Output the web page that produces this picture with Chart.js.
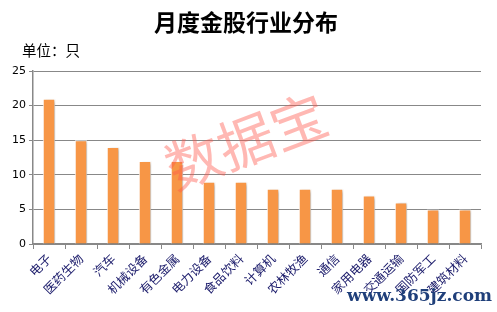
<!DOCTYPE html>
<html>
<head>
<meta charset="utf-8">
<script src="https://cdn.jsdelivr.net/npm/chart.js@4/dist/chart.umd.min.js"></script>
<style>
  html,body{margin:0;padding:0;background:#fff;}
  #wrap{width:497px;height:312px;position:relative;}
</style>
</head>
<body>
<div id="wrap"><canvas id="c" width="497" height="312"></canvas></div>
<script>
const industries = ['电子','医药生物','汽车','机械设备','有色金属','电力设备','食品饮料','计算机','农林牧渔','通信','家用电器','交通运输','国防军工','建筑材料'];
const counts = [21,15,14,12,12,9,9,8,8,8,7,6,5,5];
const yTicks = [0,5,10,15,20,25];

const CJK = '"Noto Sans CJK SC", "Noto Sans", sans-serif';

// title, unit and watermarks
const decor = {
  id:'decor',
  beforeDatasetsDraw(chart){
    const ctx = chart.ctx;
    ctx.save();
    ctx.fillStyle = '#000';
    ctx.textBaseline = 'middle';
    ctx.textAlign = 'center';
    ctx.font = 'bold 23px ' + CJK;
    ctx.fillText('月度金股行业分布', 246, 22);
    ctx.textAlign = 'left';
    ctx.font = '14.5px ' + CJK;
    ctx.fillText('单位：只', 22, 50);
    ctx.restore();
  },
  beforeDatasetDraw(chart){
    const ctx = chart.ctx;
    ctx.save();
    ctx.shadowColor = 'rgba(0,0,0,0.28)';
    ctx.shadowOffsetX = 2;
    ctx.shadowOffsetY = 1;
    ctx.shadowBlur = 3;
  },
  afterDatasetDraw(chart){
    chart.ctx.restore();
  },
  afterDraw(chart){
    const ctx = chart.ctx;
    ctx.save();
    ctx.translate(246, 141);
    ctx.rotate(-0.36);
    ctx.fillStyle = 'rgba(255,85,75,0.42)';
    ctx.font = '56px ' + CJK;
    ctx.textAlign = 'center';
    ctx.textBaseline = 'middle';
    ctx.fillText('数据宝', 0, 0);
    ctx.restore();
    ctx.save();
    ctx.fillStyle = '#1f3f7a';
    ctx.font = 'bold 17px "DejaVu Serif", "Liberation Serif", serif';
    ctx.textAlign = 'right';
    ctx.textBaseline = 'middle';
    ctx.fillText('www.365jz.com', 492, 297);
    ctx.restore();
  }
};

new Chart(document.getElementById('c'), {
  type:'bar',
  data:{
    labels: industries,
    datasets:[{
      data: counts,
      backgroundColor:'#F79646',
      borderColor:'#ffffff',
      borderWidth:1,
      barPercentage:0.39,
      categoryPercentage:1
    }]
  },
  options:{
    responsive:false,
    animation:false,
    layout:{padding:{top:71,right:16,left:0,bottom:0}},
    plugins:{legend:{display:false},tooltip:{enabled:false},title:{display:false}},
    scales:{
      x:{
        afterFit(s){ s.height = 68; },
        border:{color:'#888',width:1.5},
        grid:{offset:true,drawOnChartArea:false,color:'#888',tickLength:5},
        ticks:{
          minRotation:45,maxRotation:45,autoSkip:false,
          color:'#1a1a6a',
          font:{family:CJK,size:12.5},
          padding:2
        }
      },
      y:{
        min:0,max:25,
        afterFit(s){ s.width = 33; },
        afterBuildTicks(s){ s.ticks = yTicks.map(v=>({value:v})); },
        border:{color:'#888',width:1.5},
        grid:{color:'#888',lineWidth:1,tickLength:4},
        ticks:{color:'#000',font:{family:'"DejaVu Sans", sans-serif',size:11},padding:3}
      }
    }
  },
  plugins:[decor]
});
</script>
</body>
</html>
